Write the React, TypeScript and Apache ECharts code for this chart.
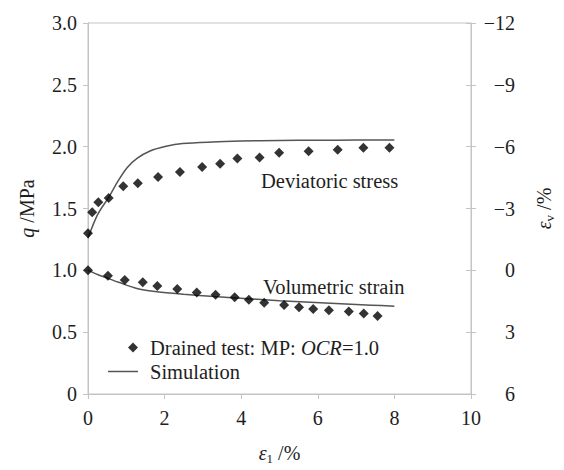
import React, { useEffect, useRef } from 'react';
import * as echarts from 'echarts';

// ---- data ----
const xTickInterval = 2;
const qTicks = [0, 0.5, 1.0, 1.5, 2.0, 2.5, 3.0];
const evTicks = [-12, -9, -6, -3, 0, 3, 6];

// Deviatoric stress, drained test (ε1 %, q MPa)
const devStrain = [0, 0.11, 0.27, 0.54, 0.92, 1.3, 1.83, 2.4, 2.98, 3.45, 3.9, 4.48, 4.99, 5.76, 6.52, 7.19, 7.87];
const devTest = [1.3, 1.47, 1.55, 1.585, 1.68, 1.705, 1.755, 1.795, 1.835, 1.862, 1.905, 1.913, 1.95, 1.962, 1.976, 1.992, 1.992];

// Deviatoric stress, simulation
const devSimStrain = [0, 0.25, 0.54, 0.76, 1.02, 1.28, 1.62, 2.04, 2.47, 3.24, 4.0, 5.0, 6.0, 7.0, 8.0];
const devSim = [1.26, 1.45, 1.59, 1.71, 1.83, 1.905, 1.965, 2.003, 2.025, 2.038, 2.045, 2.05, 2.052, 2.053, 2.053];

// Volumetric strain, drained test (ε1 %, εv %)
const volStrain = [0, 0.52, 0.96, 1.43, 1.81, 2.33, 2.84, 3.33, 3.83, 4.2, 4.6, 5.12, 5.51, 5.88, 6.29, 6.81, 7.2, 7.56];
const volTest = [0, 0.26, 0.47, 0.58, 0.76, 0.91, 1.08, 1.19, 1.3, 1.43, 1.57, 1.68, 1.79, 1.88, 1.94, 2.0, 2.1, 2.22];

// Volumetric strain, simulation
const volSimStrain = [0, 0.25, 0.5, 0.8, 1.3, 1.8, 2.5, 3.3, 4.2, 5.0, 5.8, 6.6, 7.4, 8.0];
const volSim = [0, 0.2, 0.37, 0.58, 0.89, 1.04, 1.16, 1.27, 1.38, 1.47, 1.55, 1.62, 1.69, 1.74];

const TEST_NAME = 'Drained test: MP: OCR=1.0';
const SIM_NAME = 'Simulation';

const FONT = '"Liberation Serif", "Times New Roman", serif';
const TXT = '#1e1e1e';
const AX = '#c4c4c4';
const SIM_COLOR = '#555555';

const zip = (a: number[], b: number[]) => a.map((v, i) => [v, b[i]]);

export default function App() {
  const ref = useRef<HTMLDivElement>(null);

  useEffect(() => {
    const chart = echarts.init(ref.current!, null, { renderer: 'svg' });
    const base = { fontFamily: FONT, fontSize: 20, color: TXT };
    const big = { fontFamily: FONT, fontSize: 20.5, color: TXT };
    const rich = {
      n: { ...base },
      i: { ...base, fontStyle: 'italic' },
      s: { fontFamily: FONT, fontSize: 13, color: TXT, verticalAlign: 'bottom', lineHeight: 24 },
    };
    const legendRich = {
      n: { ...big },
      i: { ...big, fontStyle: 'italic' },
    };

    chart.setOption({
      animation: false,
      backgroundColor: '#ffffff',
      grid: { left: 88, right: 85, top: 23, bottom: 66, show: true, borderColor: AX, borderWidth: 1 },
      xAxis: {
        type: 'value',
        min: 0,
        max: 10,
        interval: xTickInterval,
        name: '{i|ε}{s|1}{n| /%}',
        nameLocation: 'middle',
        nameGap: 47,
        nameTextStyle: { rich },
        axisLine: { lineStyle: { color: AX } },
        axisTick: { length: 5, lineStyle: { color: AX } },
        axisLabel: { ...base, margin: 14 },
        splitLine: { show: false },
      },
      yAxis: [
        {
          type: 'value',
          position: 'left',
          min: qTicks[0],
          max: qTicks[qTicks.length - 1],
          interval: 0.5,
          name: '{i|q}{n| /MPa}',
          nameLocation: 'middle',
          nameGap: 51,
          nameTextStyle: { rich },
          axisLine: { show: true, lineStyle: { color: AX } },
          axisTick: { show: true, length: 5, lineStyle: { color: AX } },
          axisLabel: { ...base, margin: 11, formatter: (v: number) => (v === 0 ? '0' : v.toFixed(1)) },
          splitLine: { show: false },
        },
        {
          type: 'value',
          position: 'right',
          inverse: true,
          min: evTicks[0],
          max: evTicks[evTicks.length - 1],
          interval: 3,
          name: '{i|ε}{s|v}{n| /%}',
          nameLocation: 'middle',
          nameGap: 61,
          nameTextStyle: { rich },
          axisLine: { show: true, lineStyle: { color: AX } },
          axisTick: { show: true, length: 5, lineStyle: { color: AX } },
          axisLabel: {
            ...base,
            align: 'right',
            margin: 44,
            formatter: (v: number) => (v < 0 ? '\u2212' + Math.abs(v) : String(v)),
          },
          splitLine: { show: false },
        },
        {
          type: 'value',
          position: 'right',
          inverse: true,
          min: evTicks[0],
          max: evTicks[evTicks.length - 1],
          interval: 3,
          axisLine: { show: false },
          axisTick: { show: true, inside: true, length: 5, lineStyle: { color: AX } },
          axisLabel: { show: false },
          splitLine: { show: false },
        },
      ],
      legend: [
        {
          data: [{ name: TEST_NAME, icon: 'diamond' }],
          left: 128,
          top: 337,
          padding: 0,
          itemWidth: 10,
          itemHeight: 10,
          selectedMode: false,
          formatter: () => '{n|Drained test: MP: }{i|OCR}{n|=1.0}',
          textStyle: { ...big, rich: legendRich, padding: [0, 0, 0, 7] },
        },
        {
          data: [{ name: SIM_NAME, icon: 'rect', itemStyle: { color: SIM_COLOR } }],
          left: 108,
          top: 361,
          padding: 0,
          itemWidth: 30,
          itemHeight: 1.5,
          selectedMode: false,
          formatter: () => '{n|Simulation}',
          textStyle: { ...big, rich: legendRich, padding: [0, 0, 0, 7] },
        },
      ],
      graphic: [
        {
          type: 'text',
          left: 261,
          top: 170,
          style: { text: 'Deviatoric stress', font: `20.5px ${FONT}`, fill: TXT },
        },
        {
          type: 'text',
          left: 263,
          top: 276,
          style: { text: 'Volumetric strain', font: `20.5px ${FONT}`, fill: TXT },
        },
      ],
      series: [
        {
          name: SIM_NAME,
          type: 'line',
          yAxisIndex: 0,
          data: zip(devSimStrain, devSim),
          smooth: 0.3,
          symbol: 'none',
          lineStyle: { color: SIM_COLOR, width: 1.5 },
          itemStyle: { color: SIM_COLOR },
          z: 2,
        },
        {
          name: SIM_NAME,
          type: 'line',
          yAxisIndex: 1,
          data: zip(volSimStrain, volSim),
          smooth: 0.3,
          symbol: 'none',
          lineStyle: { color: SIM_COLOR, width: 1.5 },
          itemStyle: { color: SIM_COLOR },
          z: 2,
        },
        {
          name: TEST_NAME,
          type: 'scatter',
          yAxisIndex: 0,
          data: zip(devStrain, devTest),
          symbol: 'diamond',
          symbolSize: 10,
          itemStyle: { color: '#000000' },
          z: 3,
        },
        {
          name: TEST_NAME,
          type: 'scatter',
          yAxisIndex: 1,
          data: zip(volStrain, volTest),
          symbol: 'diamond',
          symbolSize: 10,
          itemStyle: { color: '#000000' },
          z: 3,
        },
      ],
    });

    return () => chart.dispose();
  }, []);

  return (
    <div
      ref={ref}
      style={{ position: 'fixed', left: 0, top: 0, width: 564, height: 470, background: '#fff' }}
    />
  );
}
